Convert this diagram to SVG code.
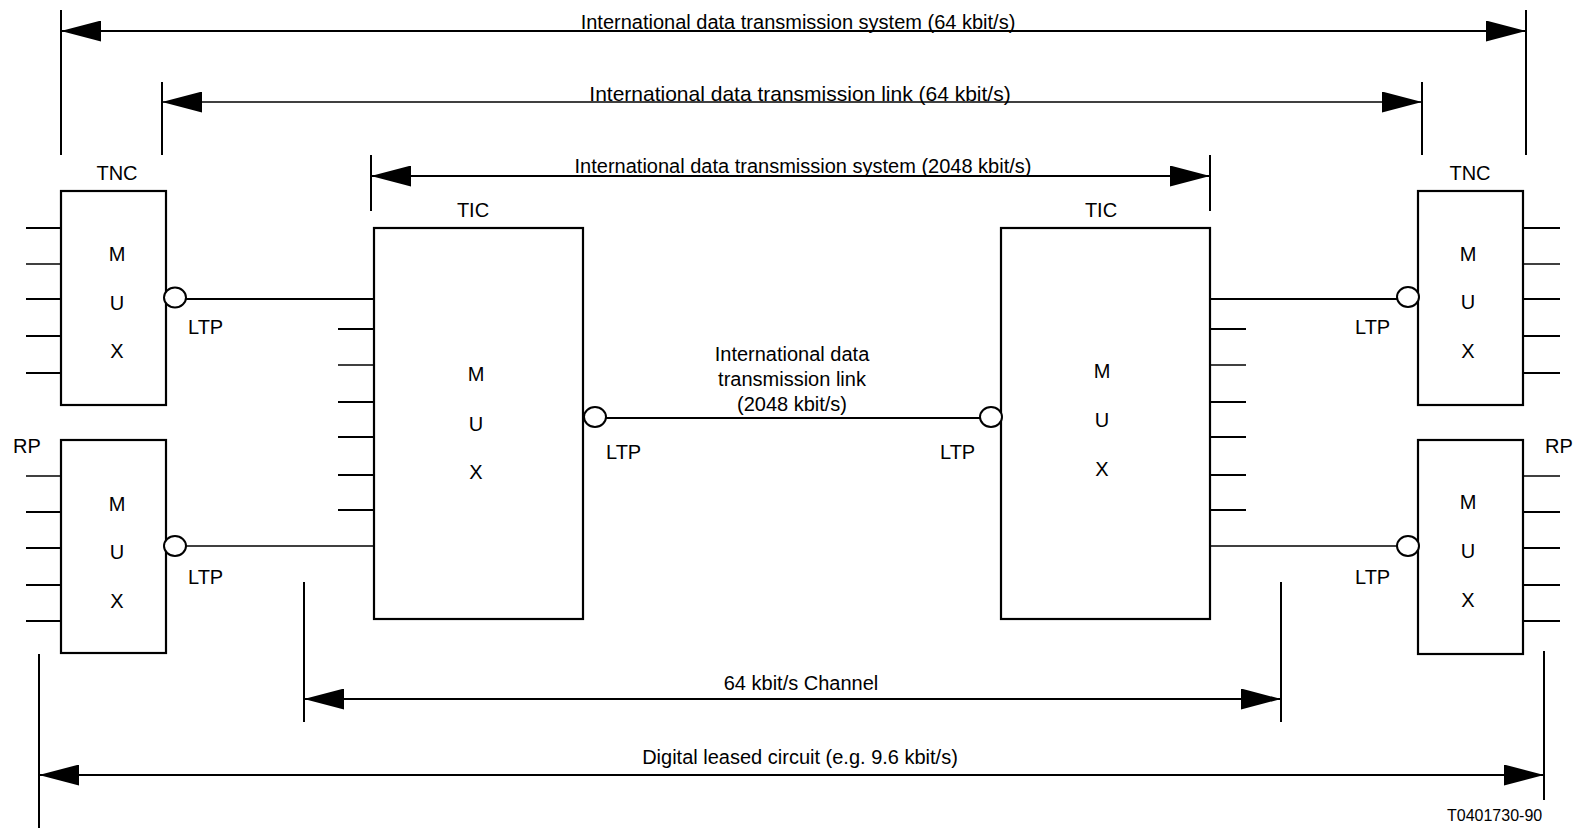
<svg xmlns="http://www.w3.org/2000/svg" width="1573" height="828" viewBox="0 0 1573 828">
<style>
text{font-family:"Liberation Sans",Arial,sans-serif;font-size:20px;fill:#000}
.c{text-anchor:middle}
.box{fill:#fff;stroke:#000;stroke-width:2.2}
.ln{stroke:#000;stroke-width:2;fill:none}
.tn{stroke:#000;stroke-width:1.3;fill:none}
.port{fill:#fff;stroke:#000;stroke-width:2}
.small{font-size:16px}
</style>
<defs>
<marker id="ah" markerUnits="userSpaceOnUse" markerWidth="40" markerHeight="21" refX="40" refY="10.5" orient="auto-start-reverse">
<path d="M0,0 L40,10.5 L0,21 z" fill="#000"/>
</marker>
</defs>

<g id="connectors">
<path class="ln" d="M61,10V155 M1526,10V155 M162,82V155 M1422,82V155 M371,155V211 M1210,155V211 M304,582V722 M1281,582V722 M39,654V828 M1544,651V800"/>
<line class="ln" x1="61" y1="31" x2="1526" y2="31" marker-start="url(#ah)" marker-end="url(#ah)"/>
<line class="tn" x1="162" y1="102" x2="1422" y2="102" marker-start="url(#ah)" marker-end="url(#ah)"/>
<line class="ln" x1="371" y1="176" x2="1210" y2="176" marker-start="url(#ah)" marker-end="url(#ah)"/>
<line class="ln" x1="304" y1="699" x2="1281" y2="699" marker-start="url(#ah)" marker-end="url(#ah)"/>
<line class="ln" x1="39" y1="775" x2="1544" y2="775" marker-start="url(#ah)" marker-end="url(#ah)"/>
<line class="ln" x1="186" y1="299" x2="374" y2="299"/>
<line class="tn" x1="186" y1="546" x2="374" y2="546"/>
<line class="ln" x1="1210" y1="299" x2="1398" y2="299"/>
<line class="tn" x1="1210" y1="546" x2="1398" y2="546"/>
<line class="ln" x1="606" y1="418" x2="980" y2="418"/>
</g>

<g id="labels">
<text class="c" x="798" y="29">International data transmission system (64 kbit/s)</text>
<text class="c" x="800" y="101" style="font-size:21px">International data transmission link (64 kbit/s)</text>
<text class="c" x="803" y="173">International data transmission system (2048 kbit/s)</text>
<text class="c" x="801" y="690">64 kbit/s Channel</text>
<text class="c" x="800" y="764">Digital leased circuit (e.g. 9.6 kbit/s)</text>
<text class="c" x="792" y="361">International data</text>
<text class="c" x="792" y="386">transmission link</text>
<text class="c" x="792" y="411">(2048 kbit/s)</text>
<text x="606" y="459">LTP</text>
<text x="940" y="459">LTP</text>
<text class="small" x="1447" y="821">T0401730-90</text>
</g>

<g id="tnc-left">
<text class="c" x="117" y="180">TNC</text>
<path class="ln" d="M26,228H61 M26,299H61 M26,336H61 M26,373H61"/>
<path class="tn" d="M26,264H61"/>
<rect class="box" x="61" y="191" width="105" height="214"/>
<text class="c" x="117" y="261">M</text>
<text class="c" x="117" y="310">U</text>
<text class="c" x="117" y="358">X</text>
<ellipse class="port" cx="175" cy="297.5" rx="11" ry="10"/>
<text x="188" y="334">LTP</text>
</g>

<g id="rp-left">
<text x="13" y="453">RP</text>
<path class="tn" d="M26,476H61"/>
<path class="ln" d="M26,512H61 M26,548H61 M26,585H61 M26,621H61"/>
<rect class="box" x="61" y="440" width="105" height="213"/>
<text class="c" x="117" y="511">M</text>
<text class="c" x="117" y="559">U</text>
<text class="c" x="117" y="608">X</text>
<ellipse class="port" cx="175" cy="546" rx="11" ry="10"/>
<text x="188" y="584">LTP</text>
</g>

<g id="tic-left">
<text class="c" x="473" y="217">TIC</text>
<path class="ln" d="M338,329H374 M338,402H374 M338,437H374 M338,475H374 M338,510H374"/>
<path class="tn" d="M338,365H374"/>
<rect class="box" x="374" y="228" width="209" height="391"/>
<text class="c" x="476" y="381">M</text>
<text class="c" x="476" y="431">U</text>
<text class="c" x="476" y="479">X</text>
<ellipse class="port" cx="595" cy="417" rx="11" ry="10"/>
</g>

<g id="tic-right">
<text class="c" x="1101" y="217">TIC</text>
<path class="ln" d="M1210,329H1246 M1210,402H1246 M1210,437H1246 M1210,475H1246 M1210,510H1246"/>
<path class="tn" d="M1210,365H1246"/>
<rect class="box" x="1001" y="228" width="209" height="391"/>
<text class="c" x="1102" y="378">M</text>
<text class="c" x="1102" y="427">U</text>
<text class="c" x="1102" y="476">X</text>
<ellipse class="port" cx="991" cy="417" rx="11" ry="10"/>
</g>

<g id="tnc-right">
<text class="c" x="1470" y="180">TNC</text>
<path class="ln" d="M1523,228H1560 M1523,299H1560 M1523,336H1560 M1523,373H1560"/>
<path class="tn" d="M1523,264H1560"/>
<rect class="box" x="1418" y="191" width="105" height="214"/>
<text class="c" x="1468" y="261">M</text>
<text class="c" x="1468" y="309">U</text>
<text class="c" x="1468" y="358">X</text>
<ellipse class="port" cx="1408" cy="297" rx="11" ry="10"/>
<text x="1355" y="334">LTP</text>
</g>

<g id="rp-right">
<text x="1545" y="453">RP</text>
<path class="tn" d="M1523,476H1560"/>
<path class="ln" d="M1523,512H1560 M1523,548H1560 M1523,585H1560 M1523,621H1560"/>
<rect class="box" x="1418" y="440" width="105" height="214"/>
<text class="c" x="1468" y="509">M</text>
<text class="c" x="1468" y="558">U</text>
<text class="c" x="1468" y="607">X</text>
<ellipse class="port" cx="1408" cy="546" rx="11" ry="10"/>
<text x="1355" y="584">LTP</text>
</g>
</svg>
